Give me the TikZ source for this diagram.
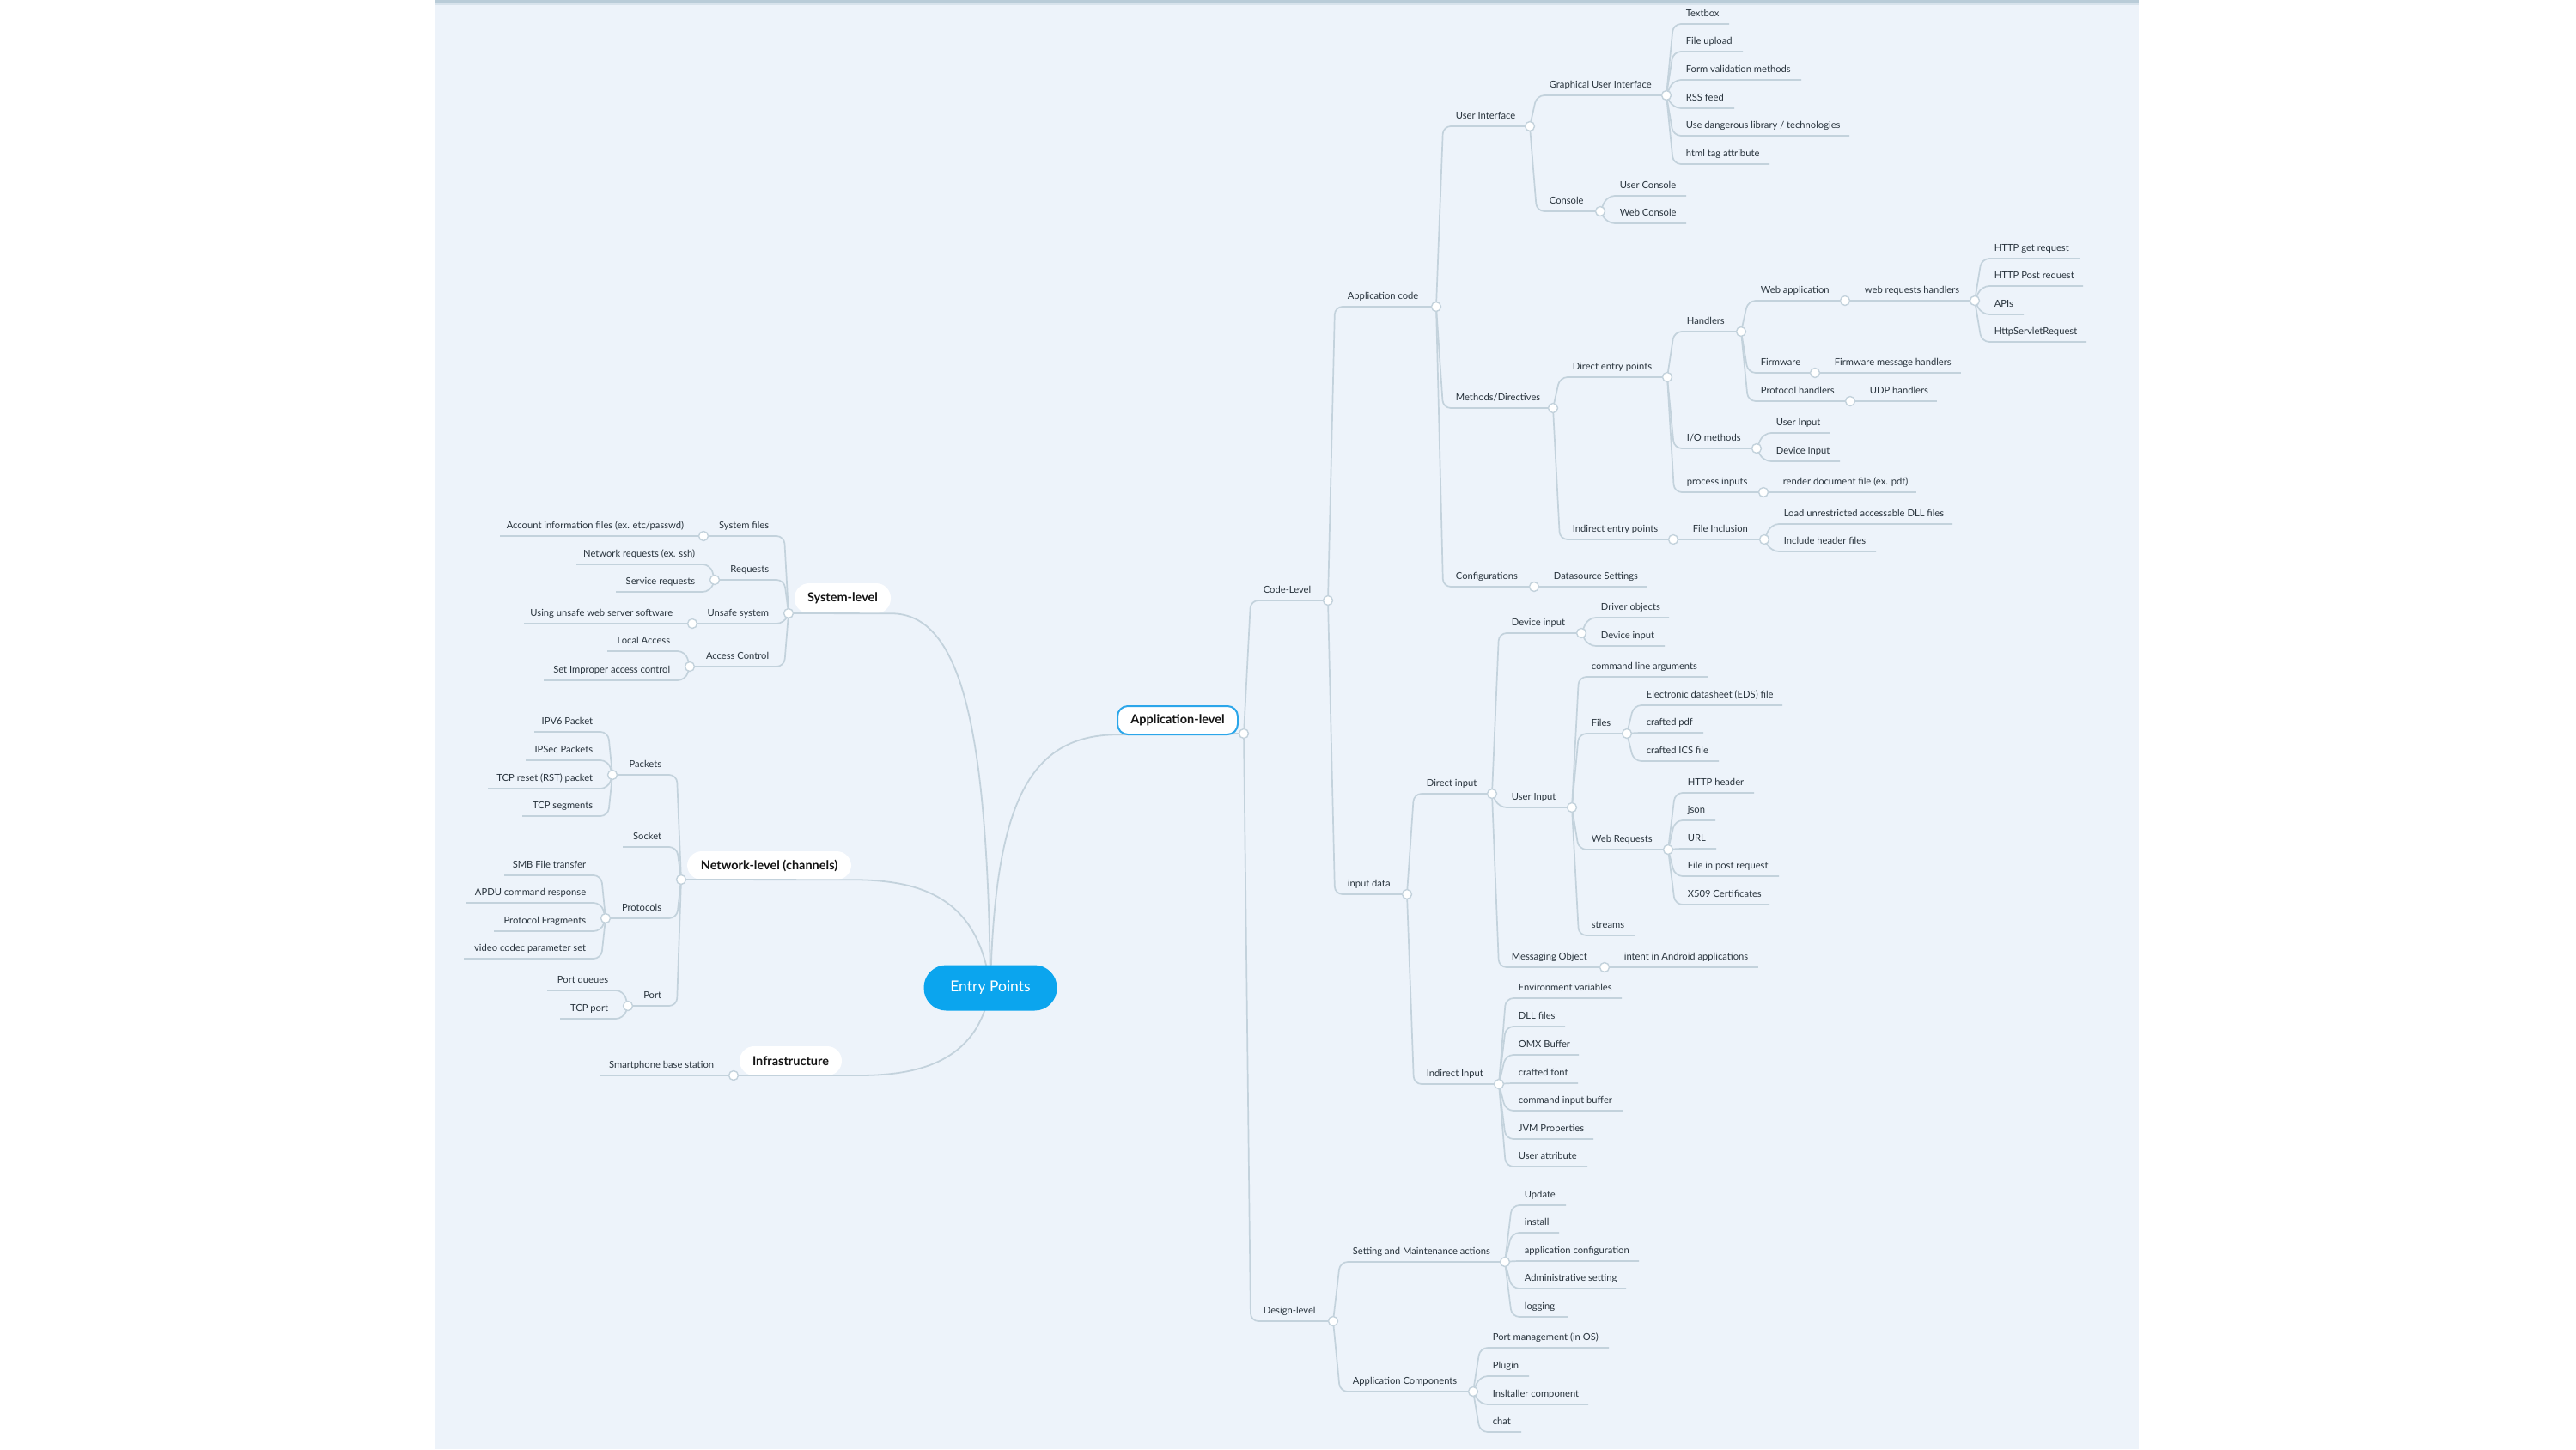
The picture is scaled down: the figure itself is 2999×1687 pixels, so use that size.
\documentclass[tikz,border=0pt]{standalone}
\usepackage{fontspec}
\setmainfont{Lato}
\usetikzlibrary{calc}
\definecolor{bgC}{HTML}{EDF3FA}
\definecolor{topC}{HTML}{B9CCD8}
\definecolor{lineC}{HTML}{C3D2DC}
\definecolor{txtC}{HTML}{28333C}
\definecolor{epC}{HTML}{0BA5EE}
\definecolor{alC}{HTML}{2BA6EA}
\tikzset{
  lbl/.style={inner sep=0pt, font=\fontsize{11.2}{13}\selectfont, text=txtC},
  conn/.style={draw=lineC, line width=1.7pt, rounded corners=9pt},
  mainconn/.style={draw=lineC, line width=1.8pt},
  dot/.style={circle, draw=lineC, fill=white, line width=1.4pt, minimum size=11pt, inner sep=0pt},
  topic/.style={rounded corners=17pt, fill=white, font=\bfseries\fontsize{14.5}{16}\selectfont, text=black!92, inner sep=0pt},
}
% right-hand branch: parent, name, line y, line end x, text
\newcommand\brR[5]{%
  \coordinate (#2) at (#4,#3);
  \draw[conn] let \p1=(#1), \p2=(#2) in (#1) -- ({\x1+8pt},\y2) -- (#2)
    node[lbl, anchor=base west] (#2-t) at ({\x1+22pt},{\y2+9pt}) {#5};
}
% left-hand branch
\newcommand\brL[5]{%
  \coordinate (#2) at (#4,#3);
  \draw[conn] let \p1=(#1), \p2=(#2) in (#1) -- ({\x1-5pt},\y2) -- (#2)
    node[lbl, anchor=base east] (#2-t) at ({\x1-22pt},{\y2+9pt}) {#5};
}
\begin{document}
\begin{tikzpicture}[x=1pt,y=-1pt]
\useasboundingbox (0,0) rectangle (2999,1687);
\fill[white] (0,0) rectangle (2999,1687);
\fill[bgC] (507,0) rectangle (2490,1687);
\fill[topC] (507,0) rectangle (2490,3);
\fill[bgC!60!topC] (507,3) rectangle (2490,6);

% main coordinates
\coordinate (epc) at (1153,1150);
\coordinate (al-c) at (1448,854);
\coordinate (sl-c) at (918,714);
\coordinate (nl-c) at (793,1024);
\coordinate (inf-c) at (854,1252);

% Application-level curve (under its box)
\node[minimum width=140pt, minimum height=33pt, inner sep=0pt] (alp) at (1371,838.5) {};
\draw[mainconn] (epc) .. controls (1158,930) and (1200,856) .. (alp.south west) -- (al-c);

% topic boxes
\node[topic, draw=alC, line width=2pt, rounded corners=12pt, minimum width=140pt, minimum height=33pt] (al) at (1371,838.5) {Application-level};
\node[topic, minimum width=112pt, minimum height=35pt] (sl) at (981,696.5) {System-level};
\node[topic, minimum width=191pt, minimum height=33pt] (nl) at (895.5,1007.5) {Network-level (channels)};
\node[topic, minimum width=119pt, minimum height=34pt] (inf) at (920.5,1235) {Infrastructure};

% curves to Entry Points
\draw[mainconn] (sl-c) -- (sl.south east) .. controls (1120,714) and (1150,850) .. (epc);
\draw[mainconn] (nl-c) -- (nl.south east) .. controls (1080,1024) and (1140,1050) .. (epc);
\draw[mainconn] (inf-c) -- (1000,1252) .. controls (1080,1252) and (1140,1230) .. (epc);

\node[fill=epC, rounded corners=26pt, minimum width=155pt, minimum height=53pt, inner sep=0pt,
      text=white, font=\fontsize{17.5}{19}\selectfont] (ep) at (epc) {Entry Points};

% ---------- Application-level ----------
\brR{al-c}{cl}{699}{1546}{Code-Level}
\brR{al-c}{dl}{1538}{1552}{Design-level}
\brR{cl}{ac}{357}{1672}{Application code}
\brR{cl}{id}{1041}{1638}{input data}
\brR{ac}{ui}{147}{1781}{User Interface}
\brR{ac}{md}{475}{1808}{Methods/Directives}
\brR{ac}{cf}{683}{1786}{Configurations}
\brR{ui}{gui}{111}{1940}{Graphical User Interface}
\brR{ui}{con}{246}{1863}{Console}
\brR{gui}{g1}{28}{2013}{Textbox}
\brR{gui}{g2}{60}{2029}{File upload}
\brR{gui}{g3}{93}{2097}{Form validation methods}
\brR{gui}{g4}{126}{2019}{RSS feed}
\brR{gui}{g5}{158}{2153}{Use dangerous library / technologies}
\brR{gui}{g6}{191}{2060}{html tag attribute}
\brR{con}{c1}{228}{1963}{User Console}
\brR{con}{c2}{260}{1963}{Web Console}
\brR{md}{dep}{439}{1941}{Direct entry points}
\brR{md}{iep}{628}{1948}{Indirect entry points}
\brR{dep}{hd}{386}{2027}{Handlers}
\brR{dep}{io}{522}{2045}{I/O methods}
\brR{dep}{pi}{573}{2053}{process inputs}
\brR{hd}{wa}{350}{2148}{Web application}
\brR{hd}{fw}{434}{2113}{Firmware}
\brR{hd}{ph}{467}{2154}{Protocol handlers}
\brR{wa}{wrh}{350}{2299}{web requests handlers}
\brR{wrh}{w1}{301}{2421}{HTTP get request}
\brR{wrh}{w2}{333}{2425}{HTTP Post request}
\brR{wrh}{w3}{366}{2356}{APIs}
\brR{wrh}{w4}{398}{2429}{HttpServletRequest}
\brR{fw}{fmh}{434}{2283}{Firmware message handlers}
\brR{ph}{udp}{467}{2255}{UDP handlers}
\brR{io}{io1}{504}{2130}{User Input}
\brR{io}{io2}{537}{2142}{Device Input}
\brR{pi}{rdf}{573}{2231}{render document file (ex. pdf)}
\brR{iep}{fi}{628}{2054}{File Inclusion}
\brR{fi}{fi1}{610}{2273}{Load unrestricted accessable DLL files}
\brR{fi}{fi2}{642}{2184}{Include header files}
\brR{cf}{ds}{683}{1918}{Datasource Settings}
\brR{id}{di}{924}{1737}{Direct input}
\brR{id}{ii}{1262}{1745}{Indirect Input}
\brR{di}{dvi}{737}{1841}{Device input}
\brR{di}{ui2}{940}{1830}{User Input}
\brR{di}{mo}{1126}{1868}{Messaging Object}
\brR{dvi}{dv1}{719}{1943}{Driver objects}
\brR{dvi}{dv2}{752}{1938}{Device input}
\brR{ui2}{cla}{788}{1988}{command line arguments}
\brR{ui2}{fl}{854}{1894}{Files}
\brR{ui2}{wr}{989}{1942}{Web Requests}
\brR{ui2}{st}{1089}{1903}{streams}
\brR{fl}{f1}{821}{2075}{Electronic datasheet (EDS) file}
\brR{fl}{f2}{853}{1983}{crafted pdf}
\brR{fl}{f3}{886}{2001}{crafted ICS file}
\brR{wr}{r1}{923}{2042}{HTTP header}
\brR{wr}{r2}{955}{1997}{json}
\brR{wr}{r3}{988}{1998}{URL}
\brR{wr}{r4}{1020}{2071}{File in post request}
\brR{wr}{r5}{1053}{2060}{X509 Certificates}
\brR{mo}{ia}{1126}{2047}{intent in Android applications}
\brR{ii}{i1}{1162}{1888}{Environment variables}
\brR{ii}{i2}{1195}{1822}{DLL files}
\brR{ii}{i3}{1228}{1838}{OMX Buffer}
\brR{ii}{i4}{1261}{1837}{crafted font}
\brR{ii}{i5}{1293}{1889}{command input buffer}
\brR{ii}{i6}{1326}{1855}{JVM Properties}
\brR{ii}{i7}{1358}{1848}{User attribute}
\brR{dl}{sm}{1469}{1752}{Setting and Maintenance actions}
\brR{dl}{apc}{1620}{1715}{Application Components}
\brR{sm}{s1}{1403}{1823}{Update}
\brR{sm}{s2}{1435}{1815}{install}
\brR{sm}{s3}{1468}{1908}{application configuration}
\brR{sm}{s4}{1500}{1893}{Administrative setting}
\brR{sm}{s5}{1533}{1825}{logging}
\brR{apc}{p1}{1569}{1873}{Port management (in OS)}
\brR{apc}{p2}{1602}{1780}{Plugin}
\brR{apc}{p3}{1635}{1849}{Insltaller component}
\brR{apc}{p4}{1667}{1771}{chat}

% ---------- System-level ----------
\brL{sl-c}{sf}{624}{819}{System files}
\brL{sf}{sf1}{624}{582}{Account information files (ex. etc/passwd)}
\brL{sl-c}{rq}{675}{832}{Requests}
\brL{rq}{rq1}{657}{671}{Network requests (ex. ssh)}
\brL{rq}{rq2}{689}{717}{Service requests}
\brL{sl-c}{us}{726}{806}{Unsafe system}
\brL{us}{us1}{726}{610}{Using unsafe web server software}
\brL{sl-c}{acx}{776}{803}{Access Control}
\brL{acx}{ax1}{758}{707}{Local Access}
\brL{acx}{ax2}{792}{633}{Set Improper access control}

% ---------- Network-level ----------
\brL{nl-c}{pk}{902}{713}{Packets}
\brL{pk}{k1}{852}{622}{IPV6 Packet}
\brL{pk}{k2}{885}{612}{IPSec Packets}
\brL{pk}{k3}{918}{568}{TCP reset (RST) packet}
\brL{pk}{k4}{950}{608}{TCP segments}
\brL{nl-c}{so}{986}{725}{Socket}
\brL{nl-c}{pr}{1069}{705}{Protocols}
\brL{pr}{q1}{1019}{587}{SMB File transfer}
\brL{pr}{q2}{1051}{542}{APDU command response}
\brL{pr}{q3}{1084}{575}{Protocol Fragments}
\brL{pr}{q4}{1116}{540}{video codec parameter set}
\brL{nl-c}{po}{1171}{731}{Port}
\brL{po}{o1}{1153}{637}{Port queues}
\brL{po}{o2}{1186}{652}{TCP port}

% ---------- Infrastructure ----------
\brL{inf-c}{sbs}{1252}{698}{Smartphone base station}

% circles
\foreach \c in {al-c,sl-c,nl-c,inf-c,cl,dl,ac,id,ui,md,cf,gui,con,dep,iep,hd,io,pi,wa,fw,ph,wrh,fi,di,ii,dvi,ui2,mo,fl,wr,sm,apc,sf,rq,us,acx,pk,pr,po}
  \node[dot] at (\c) {};
\end{tikzpicture}
\end{document}
